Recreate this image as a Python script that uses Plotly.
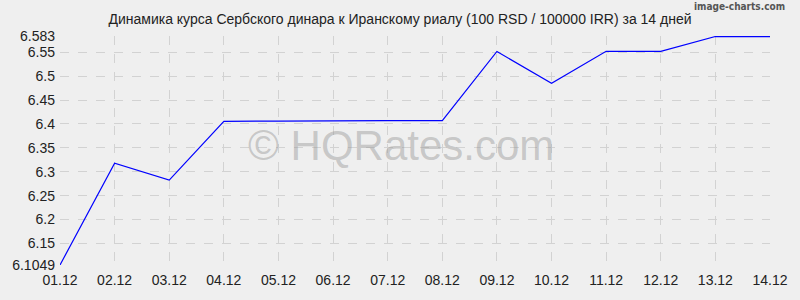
import plotly.graph_objects as go

dates = ["01.12", "02.12", "03.12", "04.12", "05.12", "06.12", "07.12",
         "08.12", "09.12", "10.12", "11.12", "12.12", "13.12", "14.12"]
rates = [6.1049, 6.318, 6.2824, 6.4055, 6.406, 6.4072, 6.4072,
         6.407, 6.5517, 6.485, 6.552, 6.552, 6.583, 6.583]
ytick_vals = [6.1049, 6.15, 6.2, 6.25, 6.3, 6.35, 6.4, 6.45, 6.5, 6.55, 6.583]
ytick_text = ["6.1049", "6.15", "6.2", "6.25", "6.3", "6.35", "6.4", "6.45", "6.5", "6.55", "6.583"]

fig = go.Figure()
fig.add_trace(go.Scatter(x=list(range(len(dates))), y=rates, mode="lines",
                         line=dict(color="#0000ff", width=1.2), hoverinfo="skip",
                         cliponaxis=False))

grid = "#d2d2d2"
fig.update_layout(
    width=800, height=300,
    margin=dict(l=60, r=21, t=37, b=34),
    paper_bgcolor="#efefef", plot_bgcolor="#efefef",
    showlegend=False,
    font=dict(family="Liberation Sans, Arial, sans-serif", size=14, color="#222222"),
    title=dict(text="Динамика курса Сербского динара к Иранскому риалу (100 RSD / 100000 IRR) за 14 дней",
               x=0.5, xanchor="center", y=0.935, yanchor="middle",
               font=dict(size=14, color="#222222")),
    xaxis=dict(range=[0, len(dates) - 1], tickmode="array",
               tickvals=list(range(len(dates))), ticktext=dates,
               showgrid=True, gridcolor=grid, griddash="dash", gridwidth=1,
               zeroline=False, showline=False, ticks="", ticklabelstandoff=5),
    yaxis=dict(range=[ytick_vals[0], ytick_vals[-1] + 0.0011], tickmode="array",
               tickvals=ytick_vals, ticktext=ytick_text,
               showgrid=True, gridcolor=grid, griddash="dash", gridwidth=1,
               zeroline=False, showline=False, ticks="", ticklabelstandoff=4),
    annotations=[
        dict(text="© HQRates.com", xref="paper", yref="paper", x=0.48, y=0.52,
             showarrow=False, font=dict(size=42, color="rgba(150,150,150,0.45)",
                                        family="Liberation Sans, Arial, sans-serif")),
        dict(text="<b>image-charts.com</b>", xref="paper", yref="paper", x=1.0, y=1.0,
             yshift=30, xshift=17, xanchor="right", yanchor="middle", showarrow=False,
             font=dict(size=10, color="#555555", family="DejaVu Sans Condensed, DejaVu Sans, sans-serif")),
    ],
)
fig.update_layout(margin=dict(t=36))
fig.write_html("out.html")
